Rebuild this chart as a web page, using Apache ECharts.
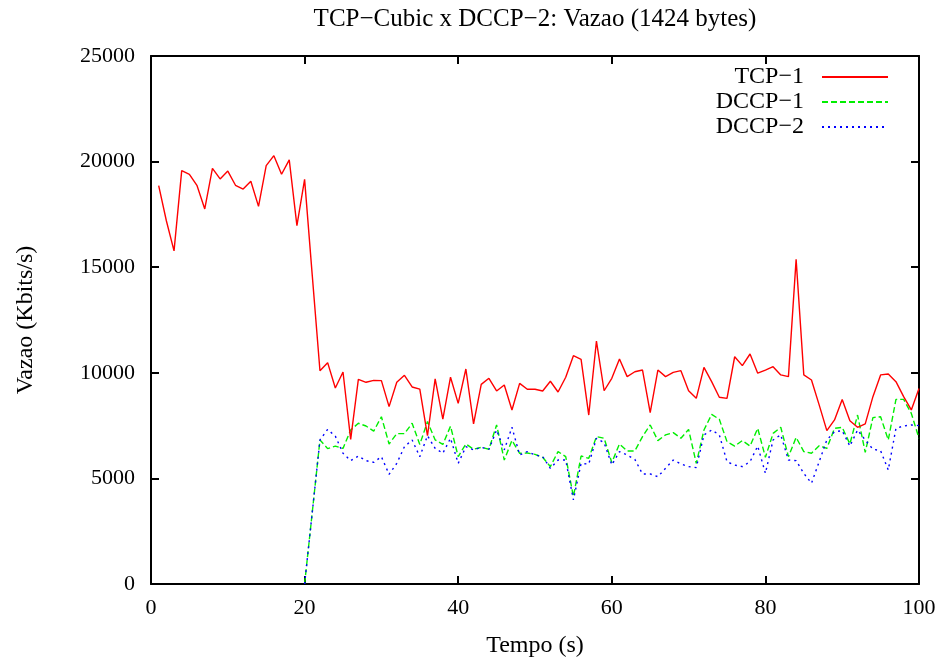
<!DOCTYPE html>
<html>
<head>
<meta charset="utf-8">
<script src="https://cdn.jsdelivr.net/npm/echarts@6/dist/echarts.min.js"></script>
<style>
html,body{margin:0;padding:0;background:#fff;}
#chart{width:943px;height:659px;}
</style>
</head>
<body>
<div id="chart"></div>
<script>
var titleText = 'TCP\u2212Cubic x DCCP\u22122: Vazao (1424 bytes)';
var xTitle = 'Tempo (s)';
var yTitle = 'Vazao (Kbits/s)';
var seriesNames = ['TCP\u22121', 'DCCP\u22121', 'DCCP\u22122'];

var tcpTime = [1,2,3,4,5,6,7,8,9,10,11,12,13,14,15,16,17,18,19,20,
  21,22,23,24,25,26,27,28,29,30,31,32,33,34,35,36,37,38,39,40,
  41,42,43,44,45,46,47,48,49,50,51,52,53,54,55,56,57,58,59,60,
  61,62,63,64,65,66,67,68,69,70,71,72,73,74,75,76,77,78,79,80,
  81,82,83,84,85,86,87,88,89,90,91,92,93,94,95,96,97,98,99,100];
var tcp1 = [18860,17200,15770,19570,19400,18860,17760,19680,19180,19550,
  18880,18700,19070,17880,19810,20280,19400,20080,16970,19160,
  14600,10100,10480,9280,10040,6850,9690,9550,9640,9630,
  8400,9550,9880,9330,9230,7020,9710,7810,9790,8550,
  10180,7580,9450,9740,9140,9420,8240,9500,9220,9220,
  9140,9600,9090,9790,10810,10640,8000,11500,9150,9740,
  10650,9820,10050,10130,8110,10130,9820,10020,10100,9150,
  8790,10260,9580,8840,8790,10760,10340,10890,9980,10130,
  10290,9900,9820,15370,9900,9660,8480,7260,7770,8740,
  7730,7420,7580,8870,9900,9940,9580,8870,8240,9260];

var dccpTime = [20,21,22,23,24,25,26,27,28,29,30,
  31,32,33,34,35,36,37,38,39,40,
  41,42,43,44,45,46,47,48,49,50,
  51,52,53,54,55,56,57,58,59,60,
  61,62,63,64,65,66,67,68,69,70,
  71,72,73,74,75,76,77,78,79,80,
  81,82,83,84,85,86,87,88,89,90,
  91,92,93,94,95,96,97,98,99,100];
var dccp1 = [0,3400,6820,6410,6530,6420,7290,7610,7480,7240,7920,
  6630,7120,7120,7610,6610,7690,6820,6610,7470,6030,
  6630,6380,6470,6380,7530,5870,6800,6190,6200,6140,
  6000,5560,6270,6030,4140,6060,5950,6980,6900,5750,
  6630,6300,6300,6980,7530,6790,7060,7170,6900,7320,
  5710,7290,8030,7800,6740,6530,6790,6530,7370,6000,
  7130,7420,6030,6940,6270,6190,6550,6420,7370,7420,
  6630,8000,6230,7880,7920,6820,8740,8740,8080,6900];
var dccp2 = [0,3400,6820,7320,7000,6190,5840,6060,5840,5760,6030,
  5190,5710,6500,6820,6030,7020,6420,6190,6900,5710,
  6500,6350,6470,6380,7290,6350,7420,6110,6270,6110,
  6030,5480,5870,5870,3980,5710,5680,6900,6690,5640,
  6270,6110,5900,5210,5210,5080,5480,5870,5680,5560,
  5510,7060,7290,7060,5790,5630,5560,5790,6530,5240,
  6820,7060,5870,5840,5240,4770,5790,6820,7210,7260,
  6530,7290,6820,6380,6310,5400,7370,7480,7530,7500];

var xTicks = [0,20,40,60,80,100];
var yTicks = [0,5000,10000,15000,20000,25000];

function pairs(xs, ys){ var out=[]; for (var i=0;i<xs.length;i++) out.push([xs[i], ys[i]]); return out; }

var FONT = 'Liberation Serif';
var chart = echarts.init(document.getElementById('chart'), null, {renderer:'canvas'});

function axisLine(){ return {show:true, onZero:false, lineStyle:{color:'#000', width:2}}; }
function tick(){ return {show:true, inside:true, length:8, lineStyle:{color:'#000', width:2}}; }

chart.setOption({
  animation:false,
  backgroundColor:'#fff',
  title:{text:titleText, left:530, textAlign:'center', top:2,
    textStyle:{fontFamily:FONT, fontSize:25, fontWeight:'normal', color:'#000'}},
  legend:{
    orient:'vertical', right:54, top:65, align:'right', padding:0,
    itemWidth:66, itemHeight:14, itemGap:1,
    data:seriesNames,
    itemStyle:{opacity:0},
    textStyle:{fontFamily:FONT, fontSize:24, color:'#000', padding:[0,13,0,0]}
  },
  grid:{left:151, right:24, top:56, bottom:75, show:false, outerBoundsMode:'none', containLabel:false},
  xAxis:[{
    type:'value', min:xTicks[0], max:xTicks[xTicks.length-1], interval:20,
    position:'bottom',
    name:xTitle, nameLocation:'middle', nameGap:50,
    nameTextStyle:{fontFamily:FONT, fontSize:24, color:'#000'},
    axisLine:axisLine(), axisTick:tick(), splitLine:{show:false},
    axisLabel:{fontFamily:FONT, fontSize:22, color:'#000', margin:13}
  },{
    type:'value', min:xTicks[0], max:xTicks[xTicks.length-1], interval:20,
    position:'top', axisLine:axisLine(), axisTick:tick(), splitLine:{show:false},
    axisLabel:{show:false}
  }],
  yAxis:[{
    type:'value', min:yTicks[0], max:yTicks[yTicks.length-1], interval:5000,
    position:'left',
    name:yTitle, nameLocation:'middle', nameGap:113, nameRotate:90,
    nameTextStyle:{fontFamily:FONT, fontSize:24, color:'#000'},
    axisLine:axisLine(), axisTick:tick(), splitLine:{show:false},
    axisLabel:{fontFamily:FONT, fontSize:22, color:'#000', margin:16,
      formatter:function(v){ return String(v); }}
  },{
    type:'value', min:yTicks[0], max:yTicks[yTicks.length-1], interval:5000,
    position:'right', axisLine:axisLine(), axisTick:tick(), splitLine:{show:false},
    axisLabel:{show:false}
  }],
  series:[
    {name:seriesNames[0], type:'line', data:pairs(tcpTime, tcp1), showSymbol:false, symbol:'none',
      lineStyle:{color:'#ff0000', width:1.4}, itemStyle:{color:'#ff0000'}, z:3},
    {name:seriesNames[1], type:'line', data:pairs(dccpTime, dccp1), showSymbol:false, symbol:'none',
      lineStyle:{color:'#00ee00', width:1.4, type:[6,3]}, itemStyle:{color:'#00ee00'}, z:2},
    {name:seriesNames[2], type:'line', data:pairs(dccpTime, dccp2), showSymbol:false, symbol:'none',
      lineStyle:{color:'#0000ff', width:1.4, type:[2,4]}, itemStyle:{color:'#0000ff'}, z:4}
  ]
});
</script>
</body>
</html>
